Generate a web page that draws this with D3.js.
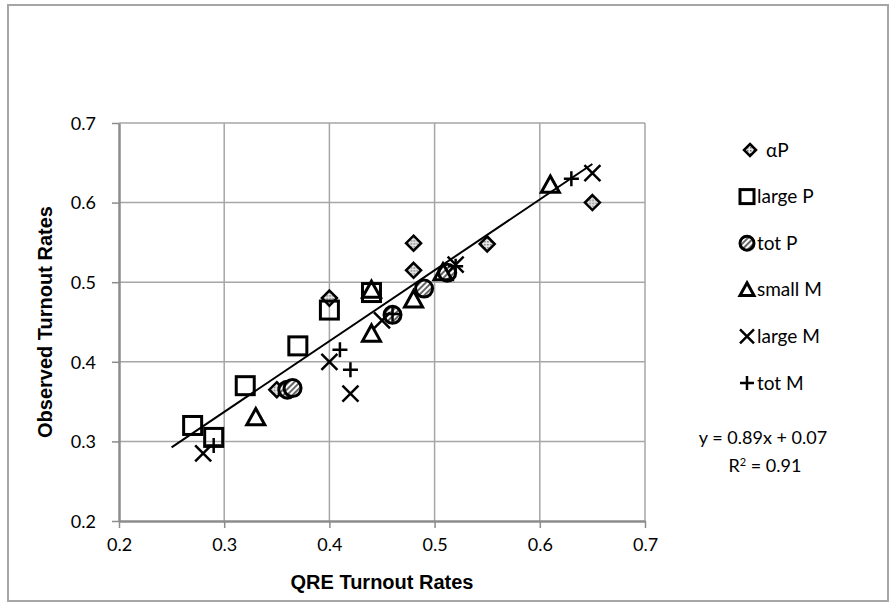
<!DOCTYPE html>
<head>
    <meta charset="utf-8">
    <script src="https://d3js.org/d3.v7.min.js"></script>
    <style>
        body { margin: 0; background: #fff; }
    </style>
</head>
<body>
    <div id="chart"></div>
    <script>
        // series: [QRE rate, observed rate]
        var alphaP = [[0.35, 0.365], [0.40, 0.48], [0.48, 0.549], [0.48, 0.515], [0.55, 0.548], [0.65, 0.60]]
        var largeP = [[0.27, 0.32], [0.29, 0.305], [0.32, 0.37], [0.37, 0.42], [0.40, 0.465], [0.44, 0.487]]
        var totP = [[0.36, 0.365], [0.365, 0.367], [0.46, 0.459], [0.49, 0.492], [0.512, 0.512]]
        var smallM = [[0.33, 0.33], [0.44, 0.435], [0.44, 0.49], [0.48, 0.478], [0.508, 0.512], [0.61, 0.622]]
        var largeM = [[0.28, 0.285], [0.40, 0.40], [0.42, 0.36], [0.45, 0.452], [0.52, 0.522], [0.65, 0.637]]
        var totM = [[0.29, 0.295], [0.41, 0.415], [0.42, 0.39], [0.46, 0.46], [0.52, 0.52], [0.63, 0.63]]

        var seriesNames = ["\u03b1P", "large P", "tot P", "small M", "large M", "tot M"]
        var xTicks = [0.2, 0.3, 0.4, 0.5, 0.6, 0.7]
        var yTicks = [0.2, 0.3, 0.4, 0.5, 0.6, 0.7]
        var slope = 0.89, intercept = 0.07, fitRange = [0.25, 0.65]

        var W = 896, H = 606
        var svg = d3.select("#chart").append("svg")
            .attr("width", W).attr("height", H)

        var defs = svg.append("defs")
        var dots = defs.append("pattern").attr("id", "dots")
            .attr("width", 3).attr("height", 3).attr("patternUnits", "userSpaceOnUse")
        dots.append("rect").attr("width", 3).attr("height", 3).attr("fill", "#e8e8e8")
        dots.append("rect").attr("width", 1.5).attr("height", 1.5).attr("fill", "#777")
        var hatch = defs.append("pattern").attr("id", "hatch")
            .attr("width", 4).attr("height", 4).attr("patternUnits", "userSpaceOnUse")
            .attr("patternTransform", "rotate(45)")
        hatch.append("rect").attr("width", 4).attr("height", 4).attr("fill", "#fff")
        hatch.append("rect").attr("width", 2).attr("height", 4).attr("fill", "#666")

        // outer frame
        svg.append("rect").attr("x", 8).attr("y", 5).attr("width", 880).attr("height", 596)
            .attr("fill", "#fff").attr("stroke", "#a6a6a6").attr("stroke-width", 2)

        var x = d3.scaleLinear().domain([0.2, 0.7]).range([119, 645])
        var y = d3.scaleLinear().domain([0.2, 0.7]).range([521, 123])

        // grid
        svg.append("g").selectAll("line").data(xTicks.slice(1)).enter().append("line")
            .attr("x1", d => x(d)).attr("x2", d => x(d)).attr("y1", y(0.2)).attr("y2", y(0.7))
            .attr("stroke", "#a6a6a6").attr("stroke-width", 1.5)
        svg.append("g").selectAll("line").data(yTicks.slice(1)).enter().append("line")
            .attr("x1", x(0.2)).attr("x2", x(0.7)).attr("y1", d => y(d)).attr("y2", d => y(d))
            .attr("stroke", "#a6a6a6").attr("stroke-width", 1.5)

        var fmt = d3.format(".1f")
        var xAxis = svg.append("g").attr("transform", "translate(0," + y(0.2) + ")")
            .call(d3.axisBottom(x).tickValues(xTicks).tickFormat(fmt).tickSize(7).tickSizeOuter(0).tickPadding(10))
        var yAxis = svg.append("g").attr("transform", "translate(" + x(0.2) + ",0)")
            .call(d3.axisLeft(y).tickValues(yTicks).tickFormat(fmt).tickSize(7).tickSizeOuter(0).tickPadding(16))
        ;[xAxis, yAxis].forEach(function(a) {
            a.select(".domain").attr("stroke", "#8c8c8c").attr("stroke-width", 2.5)
            a.selectAll(".tick line").attr("stroke", "#8c8c8c").attr("stroke-width", 1.5)
            a.selectAll("text").attr("font-family", "Lato, 'Open Sans', sans-serif")
                .attr("font-size", 18).attr("fill", "#000")
        })
        yAxis.selectAll("text").attr("dy", "0.35em")

        svg.append("text").text("QRE Turnout Rates")
            .attr("x", (x(0.2) + x(0.7)) / 2).attr("y", 589).attr("text-anchor", "middle")
            .attr("font-family", "'Liberation Sans', Arial, sans-serif").attr("font-weight", "bold")
            .attr("font-size", 20)
        svg.append("text").text("Observed Turnout Rates")
            .attr("transform", "translate(52," + (y(0.2) + y(0.7)) / 2 + ") rotate(-90)")
            .attr("text-anchor", "middle")
            .attr("font-family", "'Liberation Sans', Arial, sans-serif").attr("font-weight", "bold")
            .attr("font-size", 20)

        // trend line
        svg.append("line")
            .attr("x1", x(fitRange[0])).attr("y1", y(slope * fitRange[0] + intercept))
            .attr("x2", x(fitRange[1])).attr("y2", y(slope * fitRange[1] + intercept))
            .attr("stroke", "#000").attr("stroke-width", 2)

        // marker drawers, each draws at (0,0)
        function diamond(g, s) {
            g.append("path").attr("d", "M0," + (-s) + "L" + s + ",0L0," + s + "L" + (-s) + ",0Z")
                .attr("fill", "url(#dots)").attr("stroke", "#000").attr("stroke-width", 2.5)
        }
        function square(g, s) {
            g.append("rect").attr("x", -s).attr("y", -s).attr("width", 2 * s).attr("height", 2 * s)
                .attr("fill", "none").attr("stroke", "#000").attr("stroke-width", 3)
        }
        function circle(g, s) {
            g.append("circle").attr("r", s)
                .attr("fill", "url(#hatch)").attr("stroke", "#000").attr("stroke-width", 3)
        }
        function triangle(g, s) {
            g.append("path").attr("d", "M0," + (-s) + "L" + s + "," + (s * 0.8) + "L" + (-s) + "," + (s * 0.8) + "Z")
                .attr("fill", "none").attr("stroke", "#000").attr("stroke-width", 3).attr("stroke-linejoin", "miter")
        }
        function cross(g, s) {
            g.append("path").attr("d", "M" + (-s) + "," + (-s) + "L" + s + "," + s + "M" + s + "," + (-s) + "L" + (-s) + "," + s)
                .attr("stroke", "#000").attr("stroke-width", 2.5)
        }
        function plus(g, s) {
            g.append("path").attr("d", "M" + (-s) + ",0L" + s + ",0M0," + (-s) + "L0," + s)
                .attr("stroke", "#000").attr("stroke-width", 2.5)
        }

        var series = [
            { data: alphaP, draw: diamond, size: 7.5, lsize: 6 },
            { data: largeP, draw: square, size: 9, lsize: 7 },
            { data: totP, draw: circle, size: 8.5, lsize: 7 },
            { data: smallM, draw: triangle, size: 9, lsize: 7 },
            { data: largeM, draw: cross, size: 8, lsize: 7 },
            { data: totM, draw: plus, size: 7.5, lsize: 7 }
        ]

        series.forEach(function(s) {
            svg.append("g").selectAll("g").data(s.data).enter().append("g")
                .attr("transform", d => "translate(" + x(d[0]) + "," + y(d[1]) + ")")
                .each(function() { s.draw(d3.select(this), s.size) })
        })

        // legend
        var legendY = d3.scaleLinear().domain([0, 5]).range([150, 383])
        var legend = svg.append("g").selectAll("g").data(series).enter().append("g")
            .attr("transform", (d, i) => "translate(" + (i === 0 ? 750 : 747) + "," + legendY(i) + ")")
        legend.each(function(d) { d.draw(d3.select(this), d.lsize) })
        legend.append("text").text((d, i) => seriesNames[i])
            .attr("x", (d, i) => i === 0 ? 16 : 10).attr("dy", "0.35em")
            .attr("font-family", "Lato, 'Open Sans', sans-serif").attr("font-size", 19)

        svg.append("text").text("y = 0.89x + 0.07")
            .attr("x", 763).attr("y", 444).attr("text-anchor", "middle")
            .attr("font-family", "Lato, 'Open Sans', sans-serif").attr("font-size", 18)
        var r2 = svg.append("text")
            .attr("x", 765).attr("y", 472).attr("text-anchor", "middle")
            .attr("font-family", "Lato, 'Open Sans', sans-serif").attr("font-size", 18)
        r2.append("tspan").text("R")
        r2.append("tspan").text("2").attr("font-size", 11).attr("dy", -6)
        r2.append("tspan").text(" = 0.91").attr("dy", 6)
    </script>
</body>
</html>
